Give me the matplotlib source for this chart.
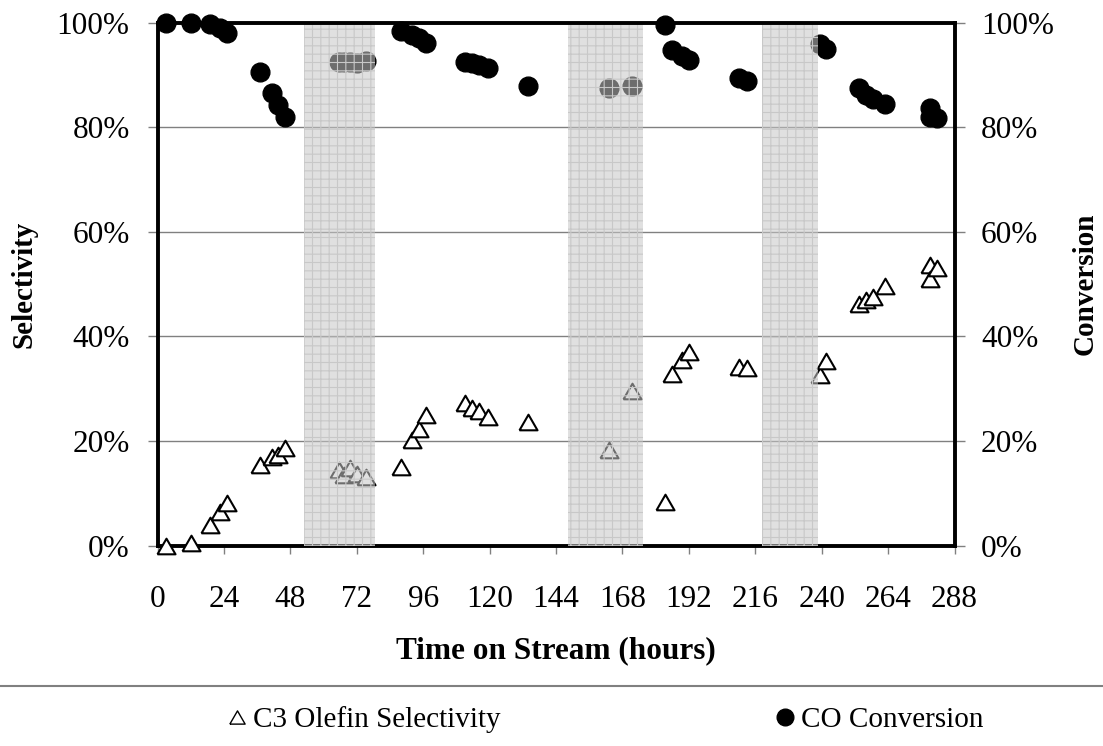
import matplotlib
matplotlib.use("Agg")
import matplotlib.pyplot as plt
from matplotlib.lines import Line2D
from matplotlib.ticker import MultipleLocator, PercentFormatter

# --- Data (time on stream in hours, values as fractions) ---
HOURS = [3, 12, 19, 22.5, 25, 37, 41.5, 43.5, 46,
         65.5, 67.5, 69.5, 72, 75.5,
         88, 92, 94.5, 97, 111, 113.5, 116, 119.5, 134,
         163, 171.5,
         183.5, 186, 189.5, 192, 210, 213,
         239.5, 241.5, 253.5, 256, 258.5, 263, 279, 279, 281.5]

CO_CONVERSION = [1.000, 1.000, 0.997, 0.989, 0.981, 0.906, 0.865, 0.843, 0.820,
                 0.925, 0.925, 0.925, 0.923, 0.927,
                 0.985, 0.976, 0.970, 0.962, 0.924, 0.922, 0.919, 0.913, 0.878,
                 0.876, 0.878,
                 0.996, 0.948, 0.936, 0.929, 0.894, 0.889,
                 0.959, 0.949, 0.875, 0.862, 0.855, 0.844, 0.836, 0.820, 0.817]

C3_SELECTIVITY = [0.000, 0.005, 0.040, 0.065, 0.082, 0.154, 0.169, 0.173, 0.186,
                  0.145, 0.135, 0.148, 0.138, 0.132,
                  0.151, 0.202, 0.223, 0.250, 0.272, 0.263, 0.258, 0.247, 0.236,
                  0.183, 0.296,
                  0.084, 0.328, 0.355, 0.370, 0.342, 0.340,
                  0.326, 0.354, 0.463, 0.470, 0.476, 0.497, 0.537, 0.509, 0.530]

# shut-down periods (start hour, end hour)
SHADED_PERIODS = [(53, 78.5), (148.5, 175.5), (218.5, 238.5)]

X_TICKS = list(range(0, 289, 24))

FONT = "Liberation Serif"
GRAY = "#808080"

plt.rcParams["font.family"] = FONT
plt.rcParams["hatch.linewidth"] = 0.8

# equilateral triangle, centred on its bounding box
TRIANGLE = [(-1.0, -0.866), (1.0, -0.866), (0.0, 0.866), (-1.0, -0.866)]

fig = plt.figure(figsize=(11.03, 7.46), dpi=100)
ax = fig.add_axes([0.1428, 0.2685, 0.7226, 0.7011])
ax2 = ax.twinx()

# Selectivity on the left axis
ax.plot(HOURS, C3_SELECTIVITY, linestyle="none", marker=TRIANGLE, markersize=13,
        markerfacecolor="white", markeredgecolor="black", markeredgewidth=1.5,
        clip_on=False, zorder=3)

# Conversion on the right axis
ax2.plot(HOURS, CO_CONVERSION, linestyle="none", marker="o", markersize=13.5,
         markerfacecolor="black", markeredgecolor="black",
         clip_on=False, zorder=2)

# shaded periods drawn over the points so they appear greyed out
for start, end in SHADED_PERIODS:
    ax2.axvspan(start, end, facecolor=(0.78, 0.78, 0.78, 0.55), edgecolor="#c8c8c8",
                hatch="++", linewidth=0, zorder=2.2)

for a in (ax, ax2):
    a.set_xlim(0, 288)
    a.set_ylim(0, 1)
    a.yaxis.set_major_locator(MultipleLocator(0.2))
    a.yaxis.set_major_formatter(PercentFormatter(1.0, decimals=0))
    a.patch.set_visible(False)

ax.set_xticks(X_TICKS)
ax.grid(axis="y", color=GRAY, linewidth=1.0)
ax.set_axisbelow(True)

# spines: left/bottom on ax, top/right on ax2
for name in ("top", "right"):
    ax.spines[name].set_visible(False)
for name in ("left", "bottom"):
    ax2.spines[name].set_visible(False)
for a, names in ((ax, ("left", "bottom")), (ax2, ("top", "right"))):
    for name in names:
        a.spines[name].set_linewidth(2.8)
        a.spines[name].set_color("black")

ax.tick_params(axis="y", direction="out", length=7, width=1.0, color=GRAY,
               labelsize=22.5, pad=13)
ax.tick_params(axis="x", direction="out", length=6, width=1.0, color=GRAY,
               labelsize=22.5, pad=22)
ax2.tick_params(axis="y", direction="out", length=7, width=1.0, color=GRAY,
                labelsize=22.5, pad=12)

ax.set_xlabel("Time on Stream (hours)", fontsize=22.5, fontweight="bold", labelpad=16)
ax.set_ylabel("Selectivity", fontsize=21, fontweight="bold", labelpad=14)
ax2.set_ylabel("Conversion", fontsize=21, fontweight="bold", labelpad=13)

# separator line above the legend
fig.add_artist(Line2D([0, 1], [0.0804, 0.0804], transform=fig.transFigure,
                      color=GRAY, linewidth=1.5))

sel_handle = Line2D([], [], linestyle="none", marker=TRIANGLE, markersize=11,
                    markerfacecolor="white", markeredgecolor="black",
                    markeredgewidth=1.0)
conv_handle = Line2D([], [], linestyle="none", marker="o", markersize=12,
                     markerfacecolor="black", markeredgecolor="black")

legend_y = 1 - 720 / 746
for handle, label, x in ((sel_handle, "C3 Olefin Selectivity", 228 / 1103),
                         (conv_handle, "CO Conversion", 776 / 1103)):
    fig.legend([handle], [label], loc="center left", bbox_to_anchor=(x, legend_y),
               frameon=False, fontsize=21, handlelength=0.6, handletextpad=0.25,
               borderpad=0, borderaxespad=0)

fig.savefig("out.png", dpi=100)
